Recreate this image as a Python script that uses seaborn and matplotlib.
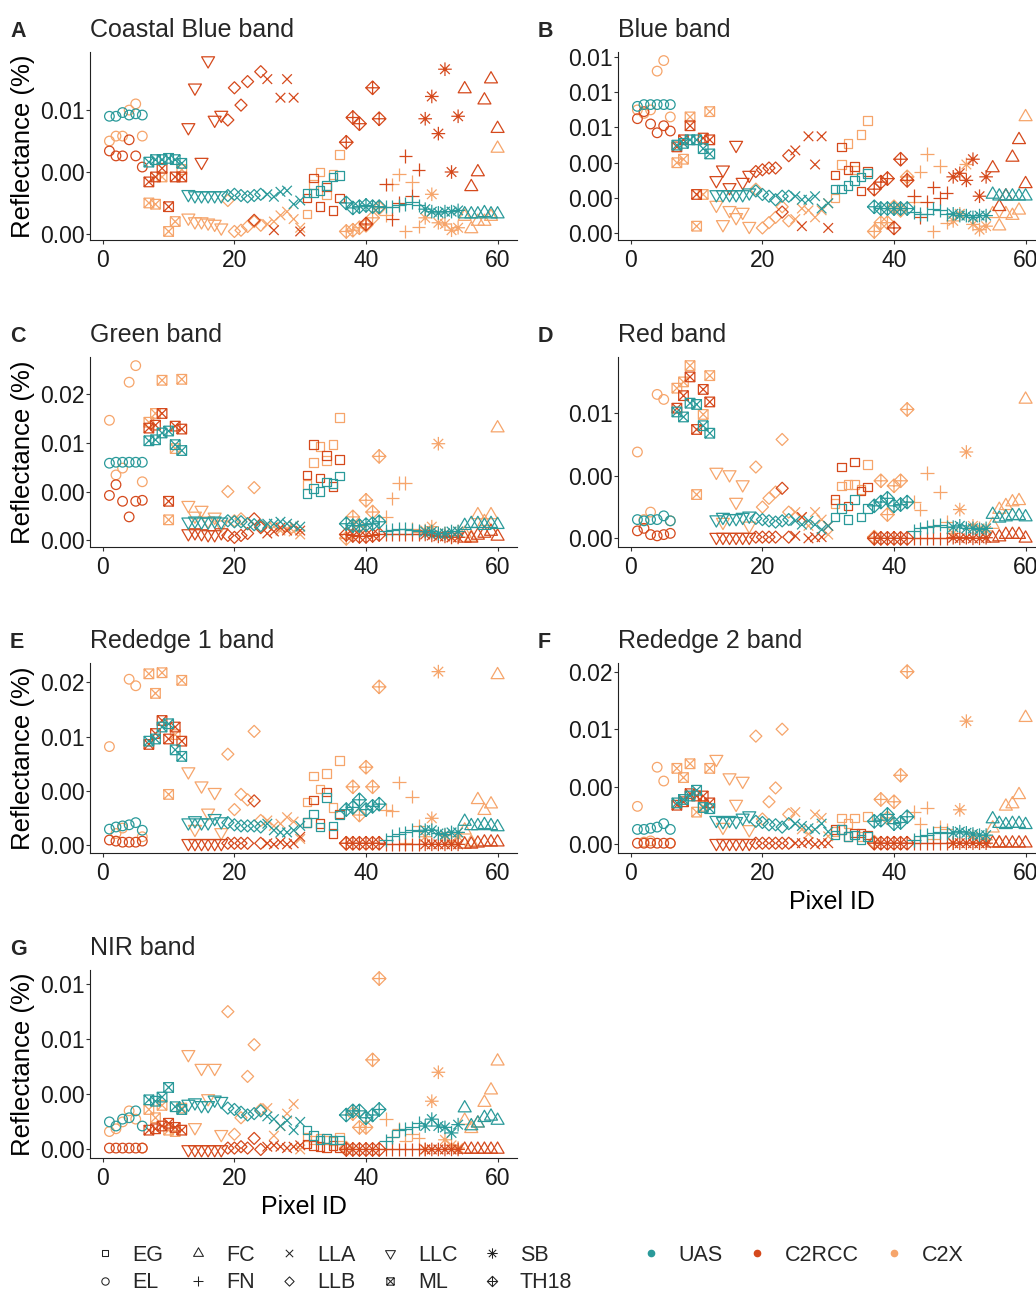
import numpy as np
import pandas as pd
import seaborn as sns
import matplotlib.pyplot as plt
from matplotlib.path import Path
from matplotlib.markers import MarkerStyle
from matplotlib.transforms import Affine2D
from matplotlib.lines import Line2D

# six pixels per site, sites in this order along the x axis
site_order = ["EL", "ML", "LLC", "LLB", "LLA", "EG", "TH18", "FN", "SB", "FC"]
legend_sites = ["EG", "EL", "FC", "FN", "LLA", "LLB", "LLC", "ML", "SB", "TH18"]
sources = ["UAS", "C2RCC", "C2X"]
pixel_id = list(range(1, 61))
pixel_site = [s for s in site_order for _ in range(6)]

# reflectance, in units of 1e-3
coastal_uas = [9.5, 9.5, 9.8, 9.6, 9.7, 9.6, 5.8, 6.0, 6.0, 6.1, 6.0, 5.7,
               3.2, 3.1, 3.1, 3.1, 3.1, 3.1, 3.1, 3.2, 3.1, 3.0, 3.1, 3.2,
               3.2, 3.0, 3.4, 3.5, 2.4, 2.7, 3.3, 3.3, 3.5, 3.9, 4.6, 4.7,
               2.5, 2.1, 2.2, 2.3, 2.2, 2.2, 2.2, 2.2, 2.3, 2.4, 2.6, 2.3,
               2.0, 1.8, 1.7, 1.8, 1.8, 1.9, 1.6, 1.6, 1.6, 1.7, 1.6, 1.6]
coastal_c2rcc = [6.7, 6.3, 6.3, 7.6, 6.3, 5.4, 4.2, 4.6, 5.3, 2.2, 4.6, 4.6,
                 8.6, 11.8, 5.8, 14.0, 9.2, 9.6, 9.2, 11.8, 10.4, 12.3, 1.1, 13.1,
                 12.5, 0.3, 11.0, 12.5, 11.0, 0.2, 2.9, 4.5, 2.2, 3.8, 1.9, 2.9,
                 7.4, 9.4, 8.9, 0.8, 11.8, 9.3, 4.0, 1.2, 2.5, 6.3, 3.1, 5.2,
                 9.3, 11.1, 8.1, 13.3, 5.0, 9.5, 11.7, 3.8, 5.0, 10.8, 12.5, 8.5]
coastal_c2x = [7.5, 7.9, 7.9, 10.0, 10.5, 7.9, 2.5, 2.4, 4.6, 0.2, 1.0, 5.2,
               1.3, 1.0, 1.0, 0.9, 0.8, 0.5, 2.7, 0.2, 0.3, 0.6, 1.0, 0.7,
               0.8, 1.0, 1.5, 1.8, 1.2, 0.5, 1.6, 4.0, 5.0, 3.2, 4.8, 6.4,
               0.2, 0.3, 0.5, 0.7, 1.3, 2.1, 1.5, 4.0, 4.8, 0.2, 4.2, 0.6,
               1.3, 3.2, 0.9, 0.8, 0.3, 0.5, 1.4, 0.4, 1.0, 1.0, 1.4, 6.9]

blue_uas = [7.2, 7.3, 7.3, 7.3, 7.3, 7.3, 5.0, 5.1, 5.3, 5.3, 4.8, 4.5,
            2.2, 2.2, 2.2, 2.2, 2.2, 2.3, 2.4, 2.2, 2.1, 1.9, 2.1, 2.1,
            2.1, 1.9, 1.9, 2.1, 1.4, 1.7, 2.5, 2.5, 2.7, 3.0, 3.2, 3.4,
            1.5, 1.4, 1.4, 1.4, 1.4, 1.4, 1.2, 1.1, 1.1, 1.4, 1.3, 1.1,
            1.1, 1.0, 1.0, 0.9, 1.0, 1.0, 2.2, 2.1, 2.1, 2.1, 2.1, 2.1]
blue_c2rcc = [6.5, 6.9, 6.2, 5.7, 6.1, 5.8, 4.9, 5.3, 6.1, 2.2, 5.4, 5.3,
              3.0, 3.6, 2.6, 5.0, 2.9, 3.3, 3.5, 3.6, 3.7, 3.7, 1.2, 4.4,
              4.7, 0.4, 5.5, 3.9, 5.5, 0.3, 3.3, 4.9, 3.6, 3.8, 2.4, 3.5,
              2.5, 2.9, 3.1, 0.3, 4.2, 3.0, 2.1, 0.9, 1.8, 2.6, 2.0, 2.3,
              3.2, 3.4, 3.0, 4.2, 2.1, 3.2, 3.7, 1.5, 2.1, 4.3, 5.3, 2.8]
blue_c2x = [7.0, 6.8, 7.0, 9.2, 9.8, 6.6, 4.0, 4.2, 6.6, 0.4, 2.2, 6.9,
            1.6, 0.5, 1.3, 0.9, 1.2, 0.4, 2.5, 0.3, 0.6, 0.9, 1.5, 0.7,
            0.8, 1.4, 1.3, 0.9, 1.3, 1.7, 2.0, 3.9, 5.1, 3.6, 5.6, 6.4,
            0.1, 0.6, 0.6, 1.5, 1.3, 3.2, 1.8, 3.5, 4.5, 0.1, 3.8, 0.6,
            0.7, 1.1, 3.9, 0.5, 0.2, 0.4, 1.1, 0.4, 1.1, 1.0, 1.3, 6.6]

green_uas = [7.9, 8.0, 8.0, 8.0, 8.0, 8.0, 10.2, 10.3, 11.0, 11.2, 9.8, 9.2,
             1.9, 2.0, 1.9, 1.9, 2.0, 1.9, 2.0, 1.9, 1.9, 1.7, 1.6, 1.5,
             1.7, 1.7, 1.9, 1.7, 1.5, 1.4, 4.8, 5.3, 5.0, 6.0, 5.8, 6.6,
             1.7, 1.5, 1.5, 1.6, 1.7, 1.9, 1.0, 1.1, 1.2, 1.2, 1.1, 1.0,
             0.9, 0.9, 0.7, 0.7, 0.9, 0.9, 1.5, 1.7, 1.7, 1.5, 1.7, 1.6]
green_c2rcc = [4.6, 5.7, 4.0, 2.4, 4.0, 4.1, 11.5, 11.8, 13.0, 4.0, 11.7, 11.4,
               0.7, 0.8, 0.7, 0.6, 0.6, 0.8, 0.5, 0.3, 0.5, 0.7, 2.2, 1.3,
               0.7, 0.9, 1.3, 1.0, 1.5, 1.0, 6.7, 9.8, 6.4, 8.7, 5.5, 8.3,
               0.6, 0.5, 0.4, 0.4, 0.5, 0.6, 0.6, 0.6, 0.6, 0.6, 0.6, 0.6,
               0.6, 0.5, 0.4, 0.4, 0.3, 0.3, 0.2, 0.2, 0.5, 0.7, 0.9, 0.4]
green_c2x = [12.3, 6.7, 7.4, 16.2, 17.9, 6.0, 12.1, 13.0, 16.4, 2.1, 9.4, 16.5,
             3.6, 2.5, 3.1, 2.0, 2.4, 1.6, 5.0, 2.0, 2.2, 1.7, 5.4, 1.4,
             1.5, 1.4, 1.0, 1.2, 0.9, 0.6, 5.7, 8.0, 9.6, 8.2, 9.8, 12.6,
             0.2, 2.4, 1.4, 4.1, 2.9, 8.6, 2.4, 4.3, 5.9, 5.9, 1.2, 0.9,
             1.0, 1.4, 9.9, 0.7, 0.3, 0.9, 0.7, 0.3, 2.6, 1.9, 2.6, 11.5]

red_uas = [1.5, 1.4, 1.5, 1.5, 1.8, 1.4, 10.1, 9.7, 10.8, 10.7, 9.0, 8.4,
           1.5, 1.7, 1.6, 1.6, 1.7, 1.8, 1.6, 1.5, 1.4, 1.3, 1.4, 1.5,
           1.4, 1.1, 1.4, 1.1, 0.7, 1.0, 1.7, 2.4, 1.5, 3.1, 1.7, 2.4,
           2.6, 2.9, 3.2, 2.6, 2.7, 2.9, 0.6, 0.8, 0.9, 1.0, 1.1, 0.9,
           0.9, 1.0, 0.8, 0.8, 0.7, 0.8, 1.9, 1.6, 1.7, 1.8, 1.8, 1.7]
red_c2rcc = [0.6, 0.8, 0.3, 0.2, 0.3, 0.4, 10.4, 11.4, 12.9, 8.7, 11.9, 10.9,
             0.1, 0.1, 0.1, 0.1, 0.1, 0.1, 0.1, 0.1, 0.1, 0.1, 4.0, 0.1,
             0.2, 1.7, 0.0, 0.1, 0.1, 1.0, 3.1, 5.7, 2.6, 6.1, 3.8, 4.1,
             0.0, 0.0, 0.0, 0.0, 0.0, 0.0, 0.0, 0.0, 0.0, 0.0, 0.0, 0.0,
             0.05, 0.0, 0.05, 0.0, 0.0, 0.05, 0.0, 0.1, 0.3, 0.3, 0.3, 0.0]
red_c2x = [6.9, 1.5, 2.1, 11.5, 11.1, 1.4, 12.0, 12.5, 13.8, 3.5, 9.9, 13.0,
           5.3, 1.3, 5.1, 2.9, 4.3, 1.0, 5.7, 2.5, 3.2, 3.7, 7.9, 2.1,
           2.1, 1.7, 1.0, 2.1, 1.5, 0.3, 2.8, 4.2, 4.3, 4.3, 3.9, 5.9,
           0.1, 4.6, 1.9, 4.2, 4.6, 10.3, 2.9, 2.3, 5.2, 1.0, 3.7, 1.3,
           0.4, 2.3, 6.9, 1.0, 0.8, 0.6, 1.1, 2.3, 2.6, 2.9, 3.0, 11.1]

re1_uas = [1.5, 1.7, 1.8, 1.9, 2.1, 1.4, 9.6, 9.8, 10.9, 11.2, 8.8, 8.2,
           2.1, 2.3, 2.1, 2.1, 2.5, 2.2, 2.1, 1.9, 1.8, 1.8, 1.8, 1.7,
           2.0, 1.4, 1.2, 1.2, 1.4, 1.8, 2.1, 2.9, 1.7, 4.4, 1.8, 2.8,
           3.3, 3.5, 4.2, 3.3, 3.6, 3.8, 0.5, 0.9, 1.1, 1.2, 1.4, 1.3,
           1.4, 1.4, 1.1, 1.0, 1.2, 1.2, 2.2, 1.8, 1.8, 1.9, 1.8, 1.7]
re1_c2rcc = [0.5, 0.4, 0.3, 0.3, 0.3, 0.4, 9.3, 10.3, 11.5, 9.8, 10.9, 9.6,
             0.2, 0.2, 0.2, 0.2, 0.2, 0.2, 0.2, 0.2, 0.2, 0.2, 4.1, 0.2,
             0.2, 0.1, 0.3, 0.1, 0.2, 0.8, 2.1, 4.2, 2.0, 4.9, 1.1, 2.9,
             0.2, 0.2, 0.2, 0.2, 0.2, 0.2, 0.1, 0.1, 0.1, 0.1, 0.1, 0.1,
             0.1, 0.1, 0.1, 0.1, 0.1, 0.1, 0.1, 0.1, 0.2, 0.3, 0.3, 0.3]
re1_c2x = [9.1, 1.1, 1.6, 15.3, 14.7, 0.8, 15.8, 14.0, 15.9, 4.7, 10.2, 15.2,
           6.8, 1.5, 5.5, 3.0, 4.9, 1.2, 8.4, 3.3, 4.7, 4.2, 10.5, 2.3,
           2.3, 1.8, 2.0, 2.6, 2.2, 0.6, 4.0, 6.4, 5.2, 6.6, 3.5, 7.8,
           0.2, 5.4, 2.8, 7.2, 5.4, 14.6, 3.3, 3.2, 5.8, 0.2, 4.5, 1.8,
           0.8, 2.5, 16.0, 0.9, 0.3, 0.8, 1.4, 0.3, 4.2, 3.2, 3.8, 15.7]

re2_uas = [1.3, 1.3, 1.4, 1.5, 1.8, 1.3, 3.6, 3.9, 4.2, 4.7, 3.2, 3.1,
           2.1, 2.0, 2.1, 2.0, 2.3, 2.5, 2.0, 1.9, 1.7, 1.7, 1.5, 1.8,
           1.8, 1.6, 1.4, 1.3, 1.8, 1.1, 0.8, 1.3, 0.7, 0.8, 0.4, 0.7,
           2.0, 2.1, 2.6, 1.8, 1.9, 2.4, 0.4, 0.7, 0.8, 1.0, 1.1, 1.0,
           1.0, 1.1, 1.0, 0.9, 0.8, 0.8, 2.2, 1.8, 1.7, 1.8, 1.8, 1.7]
re2_c2rcc = [0.1, 0.1, 0.1, 0.1, 0.1, 0.1, 3.4, 3.7, 4.4, 4.2, 4.2, 3.6,
             0.1, 0.1, 0.1, 0.1, 0.1, 0.1, 0.1, 0.1, 0.1, 0.1, 0.1, 0.1,
             0.1, 0.1, 0.2, 0.0, 0.1, 0.1, 1.3, 1.3, 0.7, 1.0, 1.0, 0.8,
             0.1, 0.1, 0.1, 0.1, 0.1, 0.1, 0.1, 0.1, 0.1, 0.1, 0.1, 0.1,
             0.1, 0.1, 0.1, 0.1, 0.1, 0.1, 0.1, 0.1, 0.1, 0.1, 0.1, 0.1]
re2_c2x = [3.3, 0.2, 0.3, 6.7, 5.5, 0.1, 6.6, 5.8, 7.0, 2.8, 3.3, 6.6,
           7.4, 1.5, 5.8, 3.5, 5.5, 1.3, 9.4, 2.2, 3.7, 4.9, 10.0, 2.6,
           2.8, 1.3, 0.9, 2.6, 2.3, 0.7, 1.1, 2.3, 1.8, 2.3, 0.7, 2.4,
           0.2, 3.9, 2.3, 3.7, 6.0, 15.0, 2.8, 1.8, 3.2, 0.5, 1.5, 1.3,
           0.1, 3.0, 10.7, 0.7, 0.1, 0.4, 1.4, 0.1, 3.3, 3.5, 4.3, 11.0]

nir_uas = [2.0, 1.7, 2.2, 2.3, 2.8, 1.7, 3.6, 3.5, 3.8, 4.5, 3.1, 2.9,
           3.3, 3.4, 3.2, 3.2, 3.6, 3.5, 3.0, 2.9, 2.7, 2.5, 2.6, 2.8,
           2.4, 2.2, 1.7, 2.1, 1.4, 2.0, 1.4, 1.0, 0.7, 0.8, 0.7, 0.7,
           2.5, 2.8, 2.8, 2.3, 2.5, 2.9, 0.6, 0.9, 1.4, 1.5, 1.6, 1.9,
           1.7, 2.2, 1.7, 1.6, 1.2, 1.8, 3.0, 1.7, 1.9, 2.3, 2.4, 2.1]
nir_c2rcc = [0.1, 0.1, 0.1, 0.1, 0.1, 0.1, 1.4, 1.5, 1.7, 1.9, 1.6, 1.4,
             0.0, 0.0, 0.0, 0.0, 0.0, 0.0, 0.1, 0.1, 0.2, 0.1, 0.8, 0.0,
             0.2, 0.3, 0.2, 0.1, 0.2, 0.3, 0.4, 0.3, 0.2, 0.15, 0.3, 0.1,
             0.0, 0.0, 0.0, 0.0, 0.0, 0.0, 0.0, 0.0, 0.0, 0.0, 0.0, 0.0,
             0.0, 0.0, 0.0, 0.0, 0.0, 0.0, 0.0, 0.0, 0.0, 0.0, 0.0, 0.0]
nir_c2x = [1.3, 1.5, 2.0, 2.8, 2.2, 0.1, 2.9, 2.3, 3.2, 1.4, 1.3, 3.0,
           6.9, 1.6, 5.9, 3.7, 5.9, 1.1, 10.0, 1.1, 2.3, 5.3, 7.6, 2.9,
           3.0, 1.0, 1.7, 2.6, 3.3, 0.0, 0.9, 0.7, 0.8, 0.7, 0.6, 0.9,
           0.1, 2.6, 1.6, 1.6, 6.5, 12.4, 2.2, 0.9, 1.5, 0.6, 1.1, 0.8,
           0.0, 3.5, 5.6, 0.7, 0.3, 0.1, 2.1, 1.5, 1.9, 3.4, 4.3, 6.4]

bands = [
    ("A", "Coastal Blue band", coastal_uas, coastal_c2rcc, coastal_c2x,
     [0, 0.005, 0.01], ["0.00", "0.00", "0.01"]),
    ("B", "Blue band", blue_uas, blue_c2rcc, blue_c2x,
     [0, 0.002, 0.004, 0.006, 0.008, 0.01], ["0.00", "0.00", "0.00", "0.01", "0.01", "0.01"]),
    ("C", "Green band", green_uas, green_c2rcc, green_c2x,
     [0, 0.005, 0.01, 0.015], ["0.00", "0.00", "0.01", "0.02"]),
    ("D", "Red band", red_uas, red_c2rcc, red_c2x,
     [0, 0.005, 0.01], ["0.00", "0.00", "0.01"]),
    ("E", "Rededge 1 band", re1_uas, re1_c2rcc, re1_c2x,
     [0, 0.005, 0.01, 0.015], ["0.00", "0.00", "0.01", "0.02"]),
    ("F", "Rededge 2 band", re2_uas, re2_c2rcc, re2_c2x,
     [0, 0.005, 0.01, 0.015], ["0.00", "0.00", "0.01", "0.02"]),
    ("G", "NIR band", nir_uas, nir_c2rcc, nir_c2x,
     [0, 0.004, 0.008, 0.012], ["0.00", "0.00", "0.01", "0.01"]),
]

palette = {"UAS": "#2A9A9A", "C2RCC": "#D5491C", "C2X": "#F6A56B"}


def pch(polys=(), segs=(), path=None):
    # R style point symbols; sizes are in units of R's point radius
    if path is None:
        verts, codes = [], []
        for poly in polys:
            verts += list(poly) + [poly[0]]
            codes += [Path.MOVETO] + [Path.LINETO] * (len(poly) - 1) + [Path.CLOSEPOLY]
        for a, b in segs:
            verts += [a, b]
            codes += [Path.MOVETO, Path.LINETO]
        path = Path(verts, codes)
    # matplotlib rescales custom markers to unit size, undo that
    return MarkerStyle(path, transform=Affine2D().scale(np.abs(path.vertices).max()))


sq, dm, r2 = 0.886, 1.253, 1.414
plus = [((-r2, 0), (r2, 0)), ((0, -r2), (0, r2))]
cross = [((-1, -1), (1, 1)), ((-1, 1), (1, -1))]
site_markers = {
    "EG": pch([[(-sq, -sq), (sq, -sq), (sq, sq), (-sq, sq)]]),
    "EL": pch(path=Path.unit_circle()),
    "FC": pch([[(0, 1.555), (1.347, -0.778), (-1.347, -0.778)]]),
    "FN": pch(segs=plus),
    "LLA": pch(segs=cross),
    "LLB": pch([[(0, dm), (dm, 0), (0, -dm), (-dm, 0)]]),
    "LLC": pch([[(0, -1.555), (1.347, 0.778), (-1.347, 0.778)]]),
    "ML": pch([[(-1, -1), (1, -1), (1, 1), (-1, 1)]], cross),
    "SB": pch(segs=cross + plus),
    "TH18": pch([[(0, r2), (r2, 0), (0, -r2), (-r2, 0)]], plus),
}

sns.set_theme(style="ticks")
plt.rcParams["font.family"] = ["Liberation Sans", "DejaVu Sans"]

W, H = 1036, 1296
fig = plt.figure(figsize=(W / 100, H / 100), dpi=100)
col_left = [90, 618]
row_top = [52, 357, 663, 970]
row_h = [188, 190, 190, 188]
ax_w = 427

for i, (letter, title, uas, c2rcc, c2x, yt, ytl) in enumerate(bands):
    row, col = divmod(i, 2)
    ax = fig.add_axes([col_left[col] / W, 1 - (row_top[row] + row_h[row]) / H,
                       ax_w / W, row_h[row] / H])
    # UAS last so it sits on top
    df = pd.DataFrame({
        "Pixel ID": pixel_id * 3,
        "Reflectance": np.concatenate([c2x, c2rcc, uas]) / 1000,
        "Source": ["C2X"] * 60 + ["C2RCC"] * 60 + ["UAS"] * 60,
        "Site": pixel_site * 3,
    })
    sns.scatterplot(data=df, x="Pixel ID", y="Reflectance", hue="Source",
                    style="Site", palette=palette, markers=site_markers,
                    style_order=legend_sites, s=48, linewidth=0.9,
                    legend=False, ax=ax)
    # hollow symbols
    for coll in ax.collections:
        coll.set_edgecolors(coll.get_facecolors())
        coll.set_facecolors("none")

    ax.margins(0.05)
    ax.set_xticks([0, 20, 40, 60])
    ax.set_yticks(yt)
    ax.set_yticklabels(ytl)
    sns.despine(ax=ax)
    for sp in ["left", "bottom"]:
        ax.spines[sp].set_color("#222222")
        ax.spines[sp].set_linewidth(0.8)
    ax.tick_params(axis="both", direction="out", length=3, width=0.8,
                   color="#333333", labelsize=16.5, labelcolor="#1a1a1a")
    ax.tick_params(axis="x", pad=3.4)
    ax.tick_params(axis="y", pad=0.8)

    if col == 0:
        ax.set_ylabel("Reflectance (%)", fontsize=18.5, color="black")
        ax.yaxis.set_label_coords(-0.129, 0.5)
    else:
        ax.set_ylabel("")
    if letter in ("F", "G"):
        ax.set_xlabel("Pixel ID", fontsize=18, labelpad=4, color="black")
    else:
        ax.set_xlabel("")

    ax.annotate(title, xy=(0, 1), xycoords="axes fraction", xytext=(0, 15),
                textcoords="offset pixels", fontsize=18, va="baseline", ha="left")
    ax.annotate(letter, xy=(0, 1), xycoords="axes fraction", xytext=(-80, 15),
                textcoords="offset pixels", fontsize=15.5, fontweight="bold",
                va="baseline", ha="left")

shape_handles = [Line2D([], [], linestyle="none", marker=site_markers[s],
                        markersize=5.3, markerfacecolor="none",
                        markeredgecolor="#222222", markeredgewidth=0.75, label=s)
                 for s in legend_sites]
colour_handles = [Line2D([], [], linestyle="none", marker="o", markersize=4.5,
                         color=palette[s], label=s) for s in sources]
leg_kw = dict(frameon=False, fontsize=15.5, handlelength=0.8, handletextpad=0.9,
              columnspacing=1.2, labelspacing=0.3, borderpad=0, borderaxespad=0,
              loc="upper left")
fig.legend(handles=shape_handles, ncol=5, bbox_to_anchor=(96 / W, 1 - 1245 / H), **leg_kw)
fig.legend(handles=colour_handles, ncol=3, bbox_to_anchor=(642 / W, 1 - 1245 / H), **leg_kw)

fig.savefig("out.png", dpi=100)
